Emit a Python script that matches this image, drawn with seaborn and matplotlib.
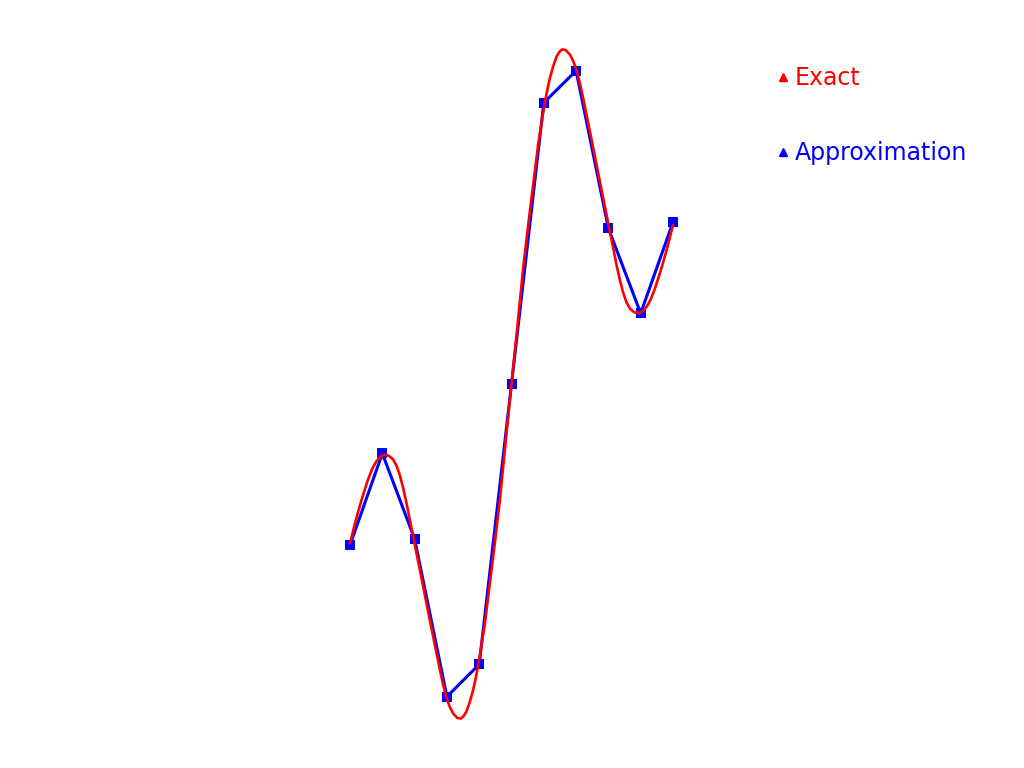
import matplotlib
matplotlib.use("Agg")
import matplotlib.pyplot as plt
import seaborn as sns
import pandas as pd
from matplotlib.lines import Line2D

# ---- data ----
approx_x = [-5, -4, -3, -2, -1, 0, 1, 2, 3, 4, 5]
approx_y = [-4.98, -2.15, -4.80, -9.68, -8.68, 0.0, 8.71, 9.70, 4.82, 2.19, 5.01]

exact_x = [-5.00, -4.85, -4.70, -4.57, -4.44, -4.31, -4.19, -4.06, -3.93, -3.80,
           -3.67, -3.56, -3.46, -3.36, -3.26, -3.05, -2.74, -2.48, -2.35, -2.22,
           -2.12, -2.02, -1.92, -1.81, -1.68, -1.57, -1.48, -1.40, -1.30, -1.19,
           -1.09, -0.985, -0.83, -0.675, -0.52, -0.365, -0.16, 0.0,
           0.16, 0.365, 0.52, 0.675, 0.83, 0.985, 1.09, 1.19, 1.30, 1.40,
           1.48, 1.57, 1.68, 1.81, 1.92, 2.02, 2.12, 2.22, 2.35, 2.48,
           2.74, 3.05, 3.26, 3.36, 3.46, 3.56, 3.67, 3.80, 3.93, 4.06,
           4.19, 4.31, 4.44, 4.57, 4.70, 4.85, 5.00]
exact_y = [-4.93, -4.32, -3.78, -3.35, -2.95, -2.62, -2.40, -2.25, -2.19, -2.22,
           -2.33, -2.53, -2.82, -3.20, -3.65, -4.70, -6.25, -7.56, -8.20, -8.84,
           -9.30, -9.69, -9.98, -10.20, -10.34, -10.36, -10.28, -10.15, -9.87, -9.48,
           -9.02, -8.43, -7.45, -6.21, -4.95, -3.63, -1.57, 0.0,
           1.57, 3.63, 4.95, 6.21, 7.45, 8.43, 9.02, 9.48, 9.87, 10.15,
           10.28, 10.36, 10.34, 10.20, 9.98, 9.69, 9.30, 8.84, 8.20, 7.56,
           6.25, 4.70, 3.65, 3.20, 2.82, 2.53, 2.33, 2.22, 2.19, 2.25,
           2.40, 2.62, 2.95, 3.35, 3.78, 4.32, 4.93]

series_labels = ["Exact", "Approximation"]
series_colors = ["#ff0000", "#0000ff"]

exact_df = pd.DataFrame({"x": exact_x, "y": exact_y})
approx_df = pd.DataFrame({"x": approx_x, "y": approx_y})

sns.set_style("white")
fig = plt.figure(figsize=(10.24, 7.68), dpi=100)
ax = fig.add_axes([0, 0, 1, 1])

sns.lineplot(data=approx_df, x="x", y="y", ax=ax, color=series_colors[1],
             linewidth=2.2, marker="s", markersize=7.5, markeredgewidth=0,
             sort=False, zorder=2)
sns.lineplot(data=exact_df, x="x", y="y", ax=ax, color=series_colors[0],
             linewidth=1.9, sort=False, zorder=3)

ax.set_xlim(-15.84, 15.87)
ax.set_ylim(-11.89, 11.89)
ax.axis("off")

handles = [Line2D([], [], marker="^", linestyle="none", color=c, markersize=6)
           for c in series_colors]
leg = fig.legend(handles, series_labels, loc="upper left",
                 bbox_to_anchor=(0.755, 0.914), frameon=False,
                 fontsize=17, handlelength=0.8, handletextpad=0.1,
                 labelspacing=2.15, borderaxespad=0, borderpad=0,
                 labelcolor=series_colors)

fig.savefig("out.png", dpi=100, facecolor="white")
